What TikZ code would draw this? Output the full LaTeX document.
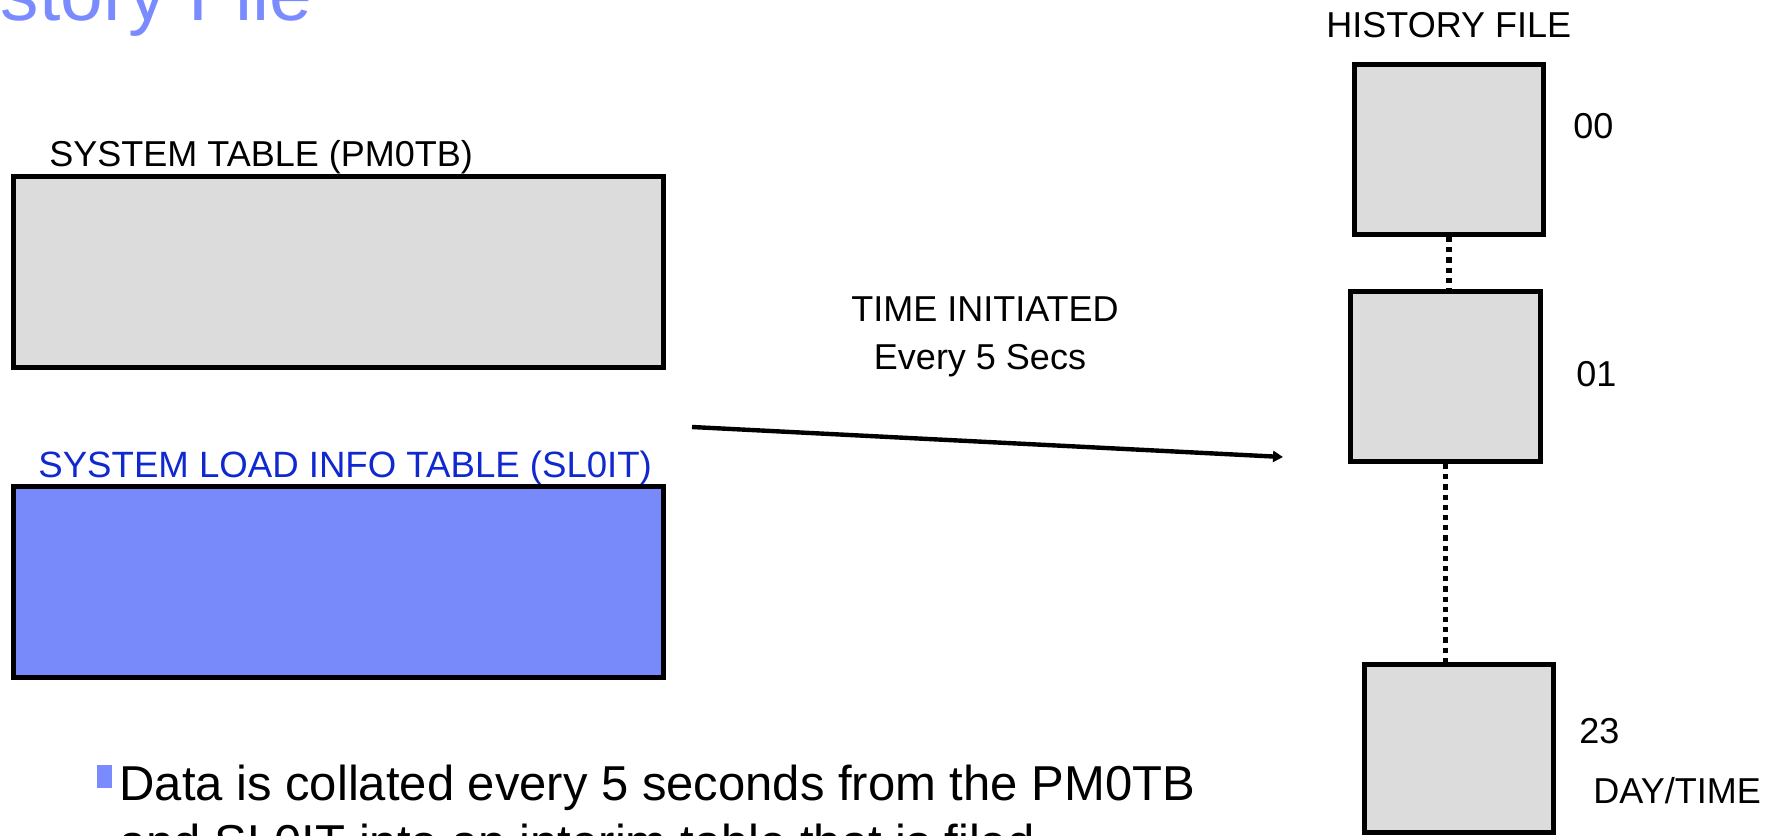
\documentclass[tikz,border=0pt]{standalone}
\usepackage{fontspec}
\setmainfont{Liberation Sans}
\usetikzlibrary{arrows.meta}
\definecolor{boxgray}{RGB}{220,220,220}
\definecolor{boxblue}{RGB}{120,137,250}
\definecolor{labblue}{RGB}{16,40,208}
\definecolor{titleblue}{RGB}{122,138,255}
\begin{document}
\begin{tikzpicture}[x=0.5pt,y=-0.5pt,
  tbox/.style={draw=black,line width=2.5pt,inner sep=0pt},
  txt/.style={inner sep=0pt,anchor=base west},
  ctxt/.style={inner sep=0pt,anchor=base},
  conn/.style={line width=2.8pt,dash pattern=on 2.6pt off 2.5pt},
  flow/.style={line width=2.2pt,-{Triangle[length=5pt,width=5.5pt]}},
  f18/.style={font=\fontsize{18}{21}\selectfont}
]
\clip (0,0) rectangle (1782,835);
\fill[white] (0,0) rectangle (1782,835);

% title
\node[txt,text=titleblue,font=\fontsize{38.4}{42}\selectfont] (title) at (-72,20) {History File};

% left tables
\node[txt,f18] (pmlab) at (49,166) {SYSTEM TABLE (PM0TB)};
\node[tbox,fill=boxgray,minimum width=325pt,minimum height=95.5pt] (pm) at (338.5,272) {};
\node[txt,font=\fontsize{18.3}{21}\selectfont,text=labblue] (sllab) at (38,477) {SYSTEM LOAD INFO TABLE (SL0IT)};
\node[tbox,fill=boxblue,minimum width=325pt,minimum height=95.5pt] (sl) at (338.5,582) {};

% arrow
\node[ctxt,f18] (ti) at (985,321) {TIME INITIATED};
\node[ctxt,f18] (ev) at (980,369) {Every 5 Secs};
\coordinate (as) at (692,427);
\coordinate (ae) at (1283,457);
\draw[flow] (as) -- (ae);

% history file
\node[txt,f18] (hf) at (1326,37) {HISTORY FILE};
\node[tbox,fill=boxgray,minimum width=94.5pt,minimum height=85pt] (h00) at (1449,149.5) {};
\node[tbox,fill=boxgray,minimum width=95pt,minimum height=85pt] (h01) at (1445.5,376.5) {};
\node[tbox,fill=boxgray,minimum width=94.5pt,minimum height=84pt] (h23) at (1459,748.5) {};
\draw[conn] (h00.south) -- (h00.south |- h01.north);
\draw[conn] (h01.south) -- (h01.south |- h23.north);
\node[txt,f18] (l00) at (1573,138) {00};
\node[txt,f18] (l01) at (1576,386) {01};
\node[txt,f18] (l23) at (1579,743) {23};
\node[txt,f18] (ldt) at (1593,803) {DAY/TIME};

% bullet text
\fill[titleblue] (97,765) rectangle (112,788);
\node[txt,font=\fontsize{24.5}{30}\selectfont] (b1) at (119,800) {Data is collated every 5 seconds from the PM0TB};
\node[txt,font=\fontsize{24.5}{30}\selectfont] (b2) at (119,859) {and SL0IT into an interim table that is filed};
\end{tikzpicture}
\end{document}
